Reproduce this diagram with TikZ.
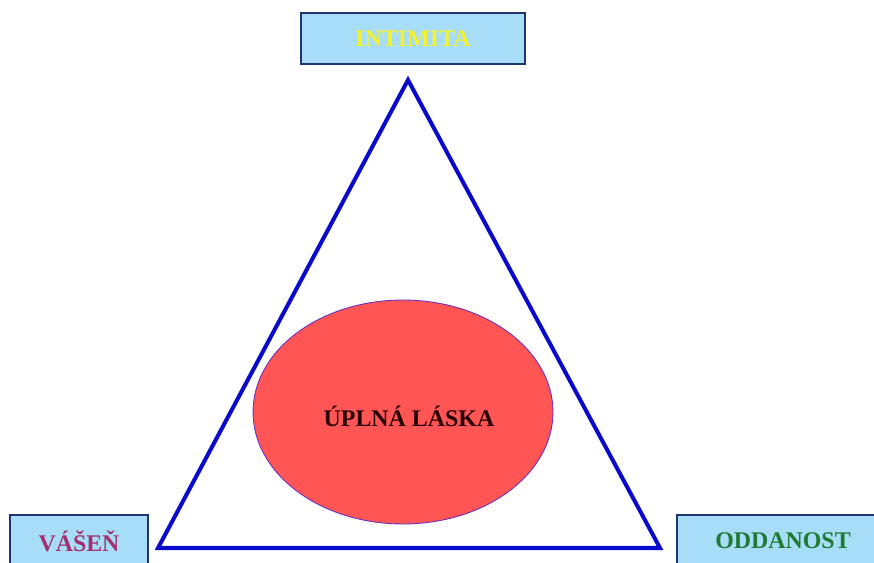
\documentclass[tikz,border=0pt]{standalone}
\usepackage{fontspec}
\setmainfont{Liberation Serif}
\usetikzlibrary{shapes.geometric}
\definecolor{boxfill}{HTML}{A8DDF7}
\definecolor{boxline}{HTML}{1F3570}
\definecolor{tricol}{HTML}{0A0ACC}
\definecolor{lovefill}{HTML}{FF5555}
\definecolor{loveline}{HTML}{6A2FC0}
\definecolor{intcol}{HTML}{F2F230}
\definecolor{vascol}{HTML}{A3306F}
\definecolor{oddcol}{HTML}{1E7A34}

\begin{document}
\begin{tikzpicture}[x=0.02cm,y=-0.02cm,
  corner/.style={draw=boxline,fill=boxfill,line width=1.1pt,inner sep=0pt,
    font=\fontsize{13.6}{16}\selectfont\bfseries},
  love/.style={ellipse,draw=loveline,fill=lovefill,line width=0.5pt,
    minimum width=6cm,minimum height=4.48cm,
    font=\fontsize{13.6}{16}\selectfont\bfseries,text=black!85!red}]
\useasboundingbox (0,0) rectangle (874,563);
\clip (0,0) rectangle (874,563);
% Corners of the triangle
\coordinate (top) at (408,80);
\coordinate (left) at (158,548);
\coordinate (right) at (660,548);
\draw[tricol,line width=2.3pt,line join=miter] (top) -- (right) -- (left) -- cycle;
% Complete love in the middle
\node[love] (laska) at (403,412) {};
\node[font=\fontsize{13.6}{16}\selectfont\bfseries,text=black!85!red] (laskatext) at (409,416) {ÚPLNÁ LÁSKA};
% Labels at the corners
\node[corner,minimum width=4.48cm,minimum height=1.02cm,text=intcol] (intimita) at (413,38.5) {INTIMITA};
\node[corner,minimum width=2.76cm,minimum height=1.04cm,text=vascol] (vasen) at (79,541) {VÁŠEŇ};
\node[corner,minimum width=4.24cm,minimum height=1.04cm,text=oddcol] (oddanost) at (783,541) {ODDANOST};
\end{tikzpicture}
\end{document}
